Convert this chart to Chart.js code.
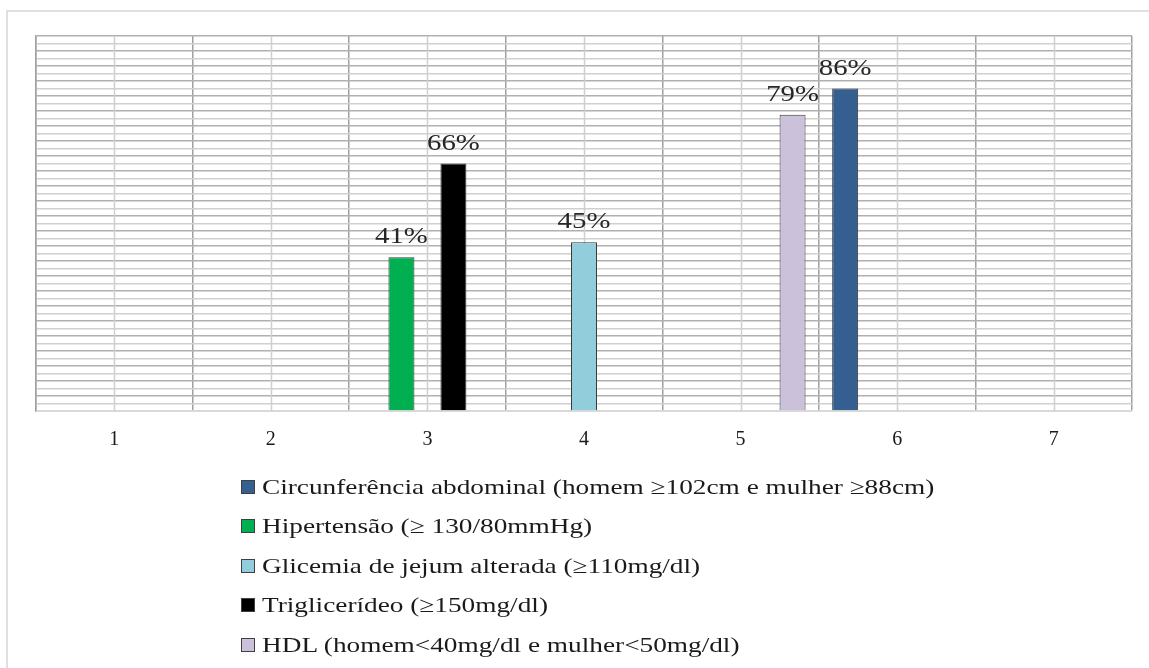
<!DOCTYPE html>
<html>
<head>
<meta charset="utf-8">
<script src="https://cdn.jsdelivr.net/npm/chart.js@4"></script>
<style>
  body { margin: 0; background: #fff; }
  #wrap { position: relative; width: 1149px; height: 668px; overflow: hidden; background: #fff; }
  #frame { position: absolute; left: 6px; top: 10px; width: 1200px; height: 700px;
           border-left: 2px solid #e0e0e0; border-top: 2px solid #e0e0e0; }
  #chartBox { position: absolute; left: 0; top: 0; width: 1149px; height: 480px; }
  #legend { position: absolute; left: 241px; top: 467px; font-family: 'Liberation Serif', serif;
            font-size: 22px; color: #1a1a1a; }
  .item { height: 39.5px; display: flex; align-items: center; }
  .box { width: 12px; height: 12px; border: 1px solid #404040; margin-right: 7px; flex: none; }
  .txt { display: inline-block; transform: scaleX(1.24); transform-origin: left center; white-space: nowrap; }
</style>
</head>
<body>
<div id="wrap">
  <div id="frame"></div>
  <div id="chartBox"><canvas id="chart"></canvas></div>
  <div id="legend"></div>
</div>
<script>
// Categories and series (percent), null where the series has no bar
const categories = ['1', '2', '3', '4', '5', '6', '7'];
const circunferencia = [null, null, null, null, null, 86, null];
const hipertensao = [null, null, 41, null, null, null, null];
const glicemia = [null, null, null, 45, null, null, null];
const triglicerideo = [null, null, 66, null, null, null, null];
const hdl = [null, null, null, null, 79, null, null];

const seriesNames = [
    'Circunferência abdominal (homem ≥102cm e mulher ≥88cm)',
    'Hipertensão (≥ 130/80mmHg)',
    'Glicemia de jejum alterada (≥110mg/dl)',
    'Triglicerídeo (≥150mg/dl)',
    'HDL (homem<40mg/dl e mulher<50mg/dl)'
];
const seriesData = [circunferencia, hipertensao, glicemia, triglicerideo, hdl];
const seriesColors = ['#365f91', '#00b050', '#92cddc', '#000000', '#ccc1da'];

const serif = "'Liberation Serif', serif";

// light vertical lines through the middle of each category
const centerLines = {
    id: 'centerLines',
    beforeDatasetsDraw(chart) {
        const { ctx, chartArea, scales } = chart;
        ctx.save();
        ctx.strokeStyle = '#cfcfcf';
        ctx.lineWidth = 1.5;
        categories.forEach((c, i) => {
            const x = Math.round(scales.x.getPixelForValue(i)) + 0.5;
            ctx.beginPath();
            ctx.moveTo(x, chartArea.top);
            ctx.lineTo(x, chartArea.bottom);
            ctx.stroke();
        });
        ctx.restore();
    }
};

// percent labels above the bars (the original font is drawn a bit wide)
const valueLabels = {
    id: 'valueLabels',
    afterDatasetsDraw(chart) {
        const ctx = chart.ctx;
        chart.data.datasets.forEach((ds, di) => {
            const meta = chart.getDatasetMeta(di);
            ds.data.forEach((v, i) => {
                if (v === null) return;
                const bar = meta.data[i];
                ctx.save();
                ctx.font = '24px ' + serif;
                ctx.fillStyle = '#262626';
                ctx.textAlign = 'center';
                ctx.textBaseline = 'alphabetic';
                ctx.translate(bar.x, bar.y - 14);
                ctx.scale(1.2, 1);
                ctx.fillText(v + '%', 0, 0);
                ctx.restore();
            });
        });
    }
};

const chart = new Chart(document.getElementById('chart'), {
    type: 'bar',
    data: {
        labels: categories,
        datasets: seriesNames.map((name, i) => ({
            label: name,
            data: seriesData[i],
            backgroundColor: seriesColors[i],
            borderColor: '#3a3a3a',
            borderWidth: 1,
            categoryPercentage: 0.83,
            barPercentage: 1,
            skipNull: false
        }))
    },
    options: {
        responsive: true,
        maintainAspectRatio: false,
        animation: false,
        layout: { padding: { left: 36, right: 17, top: 36, bottom: 11 } },
        plugins: {
            legend: { display: false },
            tooltip: { enabled: false }
        },
        scales: {
            x: {
                grid: { offset: true, color: '#a0a0a0', lineWidth: 1.5, drawTicks: false },
                border: { color: '#d9d9d9', width: 2 },
                ticks: { font: { family: serif, size: 20 }, color: '#1a1a1a', padding: 17 }
            },
            y: {
                min: 0,
                max: 100,
                ticks: { display: false, stepSize: 2 },
                grid: {
                    drawTicks: false,
                    lineWidth: 1.5,
                    color: (c) => (c.tick && c.tick.value % 4 === 0) ? '#b0b0b0' : '#d0d0d0'
                },
                border: { color: '#a0a0a0', width: 1.5 }
            }
        }
    },
    plugins: [centerLines, valueLabels]
});

// legend as a vertical list below the chart
const legendEl = document.getElementById('legend');
chart.data.datasets.forEach((ds) => {
    const row = document.createElement('div');
    row.className = 'item';
    const box = document.createElement('span');
    box.className = 'box';
    box.style.background = ds.backgroundColor;
    const txt = document.createElement('span');
    txt.className = 'txt';
    txt.textContent = ds.label;
    row.appendChild(box);
    row.appendChild(txt);
    legendEl.appendChild(row);
});
</script>
</body>
</html>
